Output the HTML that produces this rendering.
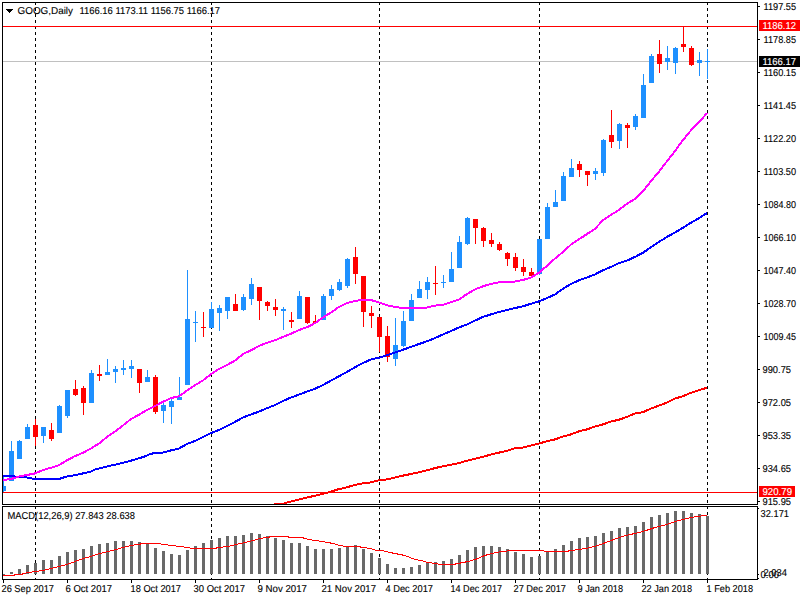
<!DOCTYPE html><html><head><meta charset="utf-8"><title>GOOG,Daily</title><style>
html,body{margin:0;padding:0;background:#fff;width:800px;height:600px;overflow:hidden}
svg{display:block}
text{font-family:"Liberation Sans", sans-serif;font-size:10px;fill:#000;text-rendering:geometricPrecision}
</style></head><body>
<svg width="800" height="600" viewBox="0 0 800 600">
<rect x="0" y="0" width="800" height="600" fill="#fff"/>
<defs><clipPath id="cm"><rect x="3" y="3" width="754" height="501"/></clipPath><clipPath id="cs"><rect x="3" y="507" width="754" height="72"/></clipPath></defs>
<g shape-rendering="crispEdges">
<line x1="35.5" y1="2" x2="35.5" y2="580" stroke="#000" stroke-width="1" stroke-dasharray="3 3"/>
<line x1="211.5" y1="2" x2="211.5" y2="580" stroke="#000" stroke-width="1" stroke-dasharray="3 3"/>
<line x1="379.5" y1="2" x2="379.5" y2="580" stroke="#000" stroke-width="1" stroke-dasharray="3 3"/>
<line x1="539.5" y1="2" x2="539.5" y2="580" stroke="#000" stroke-width="1" stroke-dasharray="3 3"/>
<line x1="707.5" y1="2" x2="707.5" y2="580" stroke="#000" stroke-width="1" stroke-dasharray="3 3"/>
</g>
<g shape-rendering="crispEdges">
<rect x="3" y="61" width="754" height="1" fill="#C0C0C0"/>
<rect x="3" y="26" width="754" height="1" fill="#FF0000"/>
<rect x="3" y="492" width="754" height="1" fill="#FF0000"/>
</g>
<g clip-path="url(#cm)" shape-rendering="crispEdges">
<rect x="3" y="477" width="1" height="15" fill="#1E90FF"/>
<rect x="1" y="486" width="5" height="5" fill="#1E90FF"/>
<rect x="11" y="441" width="1" height="40" fill="#1E90FF"/>
<rect x="9" y="451" width="5" height="30" fill="#1E90FF"/>
<rect x="19" y="440" width="1" height="19" fill="#1E90FF"/>
<rect x="17" y="441" width="5" height="18" fill="#1E90FF"/>
<rect x="27" y="424" width="1" height="15" fill="#1E90FF"/>
<rect x="25" y="427" width="5" height="12" fill="#1E90FF"/>
<rect x="35" y="419" width="1" height="27" fill="#FF0000"/>
<rect x="33" y="425" width="5" height="12" fill="#FF0000"/>
<rect x="43" y="427" width="1" height="16" fill="#1E90FF"/>
<rect x="41" y="427" width="5" height="9" fill="#1E90FF"/>
<rect x="51" y="423" width="1" height="18" fill="#FF0000"/>
<rect x="49" y="430" width="5" height="9" fill="#FF0000"/>
<rect x="59" y="405" width="1" height="28" fill="#1E90FF"/>
<rect x="57" y="406" width="5" height="27" fill="#1E90FF"/>
<rect x="67" y="390" width="1" height="28" fill="#1E90FF"/>
<rect x="65" y="390" width="5" height="26" fill="#1E90FF"/>
<rect x="75" y="380" width="1" height="16" fill="#FF0000"/>
<rect x="73" y="389" width="5" height="6" fill="#FF0000"/>
<rect x="83" y="386" width="1" height="29" fill="#FF0000"/>
<rect x="81" y="388" width="5" height="15" fill="#FF0000"/>
<rect x="91" y="370" width="1" height="33" fill="#1E90FF"/>
<rect x="89" y="373" width="5" height="30" fill="#1E90FF"/>
<rect x="99" y="365" width="1" height="16" fill="#FF0000"/>
<rect x="97" y="374" width="5" height="2" fill="#FF0000"/>
<rect x="107" y="359" width="1" height="16" fill="#1E90FF"/>
<rect x="105" y="372" width="5" height="3" fill="#1E90FF"/>
<rect x="115" y="366" width="1" height="17" fill="#1E90FF"/>
<rect x="113" y="369" width="5" height="3" fill="#1E90FF"/>
<rect x="123" y="360" width="1" height="15" fill="#1E90FF"/>
<rect x="121" y="368" width="5" height="2" fill="#1E90FF"/>
<rect x="131" y="360" width="1" height="18" fill="#1E90FF"/>
<rect x="129" y="366" width="5" height="3" fill="#1E90FF"/>
<rect x="139" y="369" width="1" height="24" fill="#FF0000"/>
<rect x="137" y="369" width="5" height="14" fill="#FF0000"/>
<rect x="147" y="370" width="1" height="12" fill="#1E90FF"/>
<rect x="145" y="377" width="5" height="5" fill="#1E90FF"/>
<rect x="155" y="375" width="1" height="39" fill="#FF0000"/>
<rect x="153" y="377" width="5" height="35" fill="#FF0000"/>
<rect x="163" y="402" width="1" height="21" fill="#1E90FF"/>
<rect x="161" y="405" width="5" height="6" fill="#1E90FF"/>
<rect x="171" y="399" width="1" height="25" fill="#1E90FF"/>
<rect x="169" y="401" width="5" height="6" fill="#1E90FF"/>
<rect x="179" y="377" width="1" height="23" fill="#1E90FF"/>
<rect x="177" y="397" width="5" height="3" fill="#1E90FF"/>
<rect x="187" y="270" width="1" height="115" fill="#1E90FF"/>
<rect x="185" y="319" width="5" height="66" fill="#1E90FF"/>
<rect x="195" y="311" width="1" height="31" fill="#1E90FF"/>
<rect x="193" y="322" width="5" height="1" fill="#1E90FF"/>
<rect x="203" y="312" width="1" height="25" fill="#FF0000"/>
<rect x="201" y="327" width="5" height="1" fill="#FF0000"/>
<rect x="211" y="302" width="1" height="26" fill="#1E90FF"/>
<rect x="209" y="309" width="5" height="19" fill="#1E90FF"/>
<rect x="219" y="305" width="1" height="26" fill="#1E90FF"/>
<rect x="217" y="308" width="5" height="5" fill="#1E90FF"/>
<rect x="227" y="297" width="1" height="22" fill="#1E90FF"/>
<rect x="225" y="297" width="5" height="14" fill="#1E90FF"/>
<rect x="235" y="294" width="1" height="17" fill="#FF0000"/>
<rect x="233" y="304" width="5" height="7" fill="#FF0000"/>
<rect x="243" y="294" width="1" height="17" fill="#1E90FF"/>
<rect x="241" y="297" width="5" height="13" fill="#1E90FF"/>
<rect x="251" y="278" width="1" height="27" fill="#1E90FF"/>
<rect x="249" y="284" width="5" height="15" fill="#1E90FF"/>
<rect x="259" y="287" width="1" height="33" fill="#FF0000"/>
<rect x="257" y="287" width="5" height="14" fill="#FF0000"/>
<rect x="267" y="301" width="1" height="10" fill="#FF0000"/>
<rect x="265" y="302" width="5" height="4" fill="#FF0000"/>
<rect x="275" y="299" width="1" height="17" fill="#FF0000"/>
<rect x="273" y="307" width="5" height="3" fill="#FF0000"/>
<rect x="283" y="307" width="1" height="23" fill="#1E90FF"/>
<rect x="281" y="309" width="5" height="2" fill="#1E90FF"/>
<rect x="291" y="312" width="1" height="16" fill="#FF0000"/>
<rect x="289" y="320" width="5" height="2" fill="#FF0000"/>
<rect x="299" y="291" width="1" height="28" fill="#1E90FF"/>
<rect x="297" y="296" width="5" height="23" fill="#1E90FF"/>
<rect x="307" y="297" width="1" height="27" fill="#FF0000"/>
<rect x="305" y="297" width="5" height="26" fill="#FF0000"/>
<rect x="315" y="315" width="1" height="8" fill="#FF0000"/>
<rect x="313" y="321" width="5" height="2" fill="#FF0000"/>
<rect x="323" y="294" width="1" height="26" fill="#1E90FF"/>
<rect x="321" y="296" width="5" height="24" fill="#1E90FF"/>
<rect x="331" y="285" width="1" height="15" fill="#1E90FF"/>
<rect x="329" y="289" width="5" height="7" fill="#1E90FF"/>
<rect x="339" y="279" width="1" height="12" fill="#1E90FF"/>
<rect x="337" y="282" width="5" height="8" fill="#1E90FF"/>
<rect x="347" y="258" width="1" height="30" fill="#1E90FF"/>
<rect x="345" y="259" width="5" height="27" fill="#1E90FF"/>
<rect x="355" y="247" width="1" height="37" fill="#FF0000"/>
<rect x="353" y="257" width="5" height="17" fill="#FF0000"/>
<rect x="363" y="276" width="1" height="51" fill="#FF0000"/>
<rect x="361" y="276" width="5" height="36" fill="#FF0000"/>
<rect x="371" y="306" width="1" height="22" fill="#FF0000"/>
<rect x="369" y="313" width="5" height="3" fill="#FF0000"/>
<rect x="379" y="317" width="1" height="35" fill="#FF0000"/>
<rect x="377" y="317" width="5" height="20" fill="#FF0000"/>
<rect x="387" y="326" width="1" height="36" fill="#FF0000"/>
<rect x="385" y="336" width="5" height="21" fill="#FF0000"/>
<rect x="395" y="318" width="1" height="48" fill="#1E90FF"/>
<rect x="393" y="345" width="5" height="14" fill="#1E90FF"/>
<rect x="403" y="311" width="1" height="36" fill="#1E90FF"/>
<rect x="401" y="321" width="5" height="25" fill="#1E90FF"/>
<rect x="411" y="294" width="1" height="27" fill="#1E90FF"/>
<rect x="409" y="300" width="5" height="21" fill="#1E90FF"/>
<rect x="419" y="281" width="1" height="17" fill="#1E90FF"/>
<rect x="417" y="289" width="5" height="9" fill="#1E90FF"/>
<rect x="427" y="277" width="1" height="22" fill="#1E90FF"/>
<rect x="425" y="282" width="5" height="8" fill="#1E90FF"/>
<rect x="435" y="266" width="1" height="29" fill="#FF0000"/>
<rect x="433" y="283" width="5" height="1" fill="#FF0000"/>
<rect x="443" y="275" width="1" height="13" fill="#1E90FF"/>
<rect x="441" y="282" width="5" height="1" fill="#1E90FF"/>
<rect x="451" y="252" width="1" height="30" fill="#1E90FF"/>
<rect x="449" y="269" width="5" height="13" fill="#1E90FF"/>
<rect x="459" y="236" width="1" height="32" fill="#1E90FF"/>
<rect x="457" y="242" width="5" height="26" fill="#1E90FF"/>
<rect x="467" y="217" width="1" height="28" fill="#1E90FF"/>
<rect x="465" y="218" width="5" height="26" fill="#1E90FF"/>
<rect x="475" y="219" width="1" height="25" fill="#FF0000"/>
<rect x="473" y="219" width="5" height="9" fill="#FF0000"/>
<rect x="483" y="227" width="1" height="20" fill="#FF0000"/>
<rect x="481" y="228" width="5" height="13" fill="#FF0000"/>
<rect x="491" y="233" width="1" height="14" fill="#FF0000"/>
<rect x="489" y="240" width="5" height="4" fill="#FF0000"/>
<rect x="499" y="242" width="1" height="9" fill="#FF0000"/>
<rect x="497" y="244" width="5" height="6" fill="#FF0000"/>
<rect x="507" y="252" width="1" height="14" fill="#FF0000"/>
<rect x="505" y="253" width="5" height="6" fill="#FF0000"/>
<rect x="515" y="253" width="1" height="18" fill="#FF0000"/>
<rect x="513" y="257" width="5" height="11" fill="#FF0000"/>
<rect x="523" y="259" width="1" height="17" fill="#FF0000"/>
<rect x="521" y="267" width="5" height="5" fill="#FF0000"/>
<rect x="531" y="268" width="1" height="8" fill="#FF0000"/>
<rect x="529" y="272" width="5" height="4" fill="#FF0000"/>
<rect x="539" y="239" width="1" height="36" fill="#1E90FF"/>
<rect x="537" y="239" width="5" height="35" fill="#1E90FF"/>
<rect x="547" y="203" width="1" height="36" fill="#1E90FF"/>
<rect x="545" y="207" width="5" height="32" fill="#1E90FF"/>
<rect x="555" y="190" width="1" height="17" fill="#1E90FF"/>
<rect x="553" y="202" width="5" height="5" fill="#1E90FF"/>
<rect x="563" y="172" width="1" height="29" fill="#1E90FF"/>
<rect x="561" y="176" width="5" height="25" fill="#1E90FF"/>
<rect x="571" y="159" width="1" height="18" fill="#1E90FF"/>
<rect x="569" y="168" width="5" height="9" fill="#1E90FF"/>
<rect x="579" y="161" width="1" height="16" fill="#FF0000"/>
<rect x="577" y="164" width="5" height="6" fill="#FF0000"/>
<rect x="587" y="171" width="1" height="15" fill="#FF0000"/>
<rect x="585" y="171" width="5" height="4" fill="#FF0000"/>
<rect x="595" y="168" width="1" height="12" fill="#1E90FF"/>
<rect x="593" y="171" width="5" height="3" fill="#1E90FF"/>
<rect x="603" y="139" width="1" height="37" fill="#1E90FF"/>
<rect x="601" y="140" width="5" height="33" fill="#1E90FF"/>
<rect x="611" y="110" width="1" height="38" fill="#FF0000"/>
<rect x="609" y="135" width="5" height="7" fill="#FF0000"/>
<rect x="619" y="123" width="1" height="26" fill="#1E90FF"/>
<rect x="617" y="124" width="5" height="17" fill="#1E90FF"/>
<rect x="627" y="123" width="1" height="25" fill="#FF0000"/>
<rect x="625" y="125" width="5" height="3" fill="#FF0000"/>
<rect x="635" y="114" width="1" height="16" fill="#1E90FF"/>
<rect x="633" y="116" width="5" height="11" fill="#1E90FF"/>
<rect x="643" y="74" width="1" height="44" fill="#1E90FF"/>
<rect x="641" y="85" width="5" height="33" fill="#1E90FF"/>
<rect x="651" y="54" width="1" height="29" fill="#1E90FF"/>
<rect x="649" y="56" width="5" height="27" fill="#1E90FF"/>
<rect x="659" y="40" width="1" height="33" fill="#FF0000"/>
<rect x="657" y="54" width="5" height="10" fill="#FF0000"/>
<rect x="667" y="46" width="1" height="24" fill="#1E90FF"/>
<rect x="665" y="58" width="5" height="4" fill="#1E90FF"/>
<rect x="675" y="47" width="1" height="27" fill="#1E90FF"/>
<rect x="673" y="48" width="5" height="15" fill="#1E90FF"/>
<rect x="683" y="26" width="1" height="26" fill="#FF0000"/>
<rect x="681" y="44" width="5" height="3" fill="#FF0000"/>
<rect x="691" y="46" width="1" height="20" fill="#FF0000"/>
<rect x="689" y="48" width="5" height="17" fill="#FF0000"/>
<rect x="699" y="52" width="1" height="24" fill="#1E90FF"/>
<rect x="697" y="60" width="5" height="3" fill="#1E90FF"/>
<rect x="707" y="49" width="1" height="30" fill="#1E90FF"/>
<rect x="705" y="61" width="5" height="1" fill="#1E90FF"/>
</g>
<g clip-path="url(#cm)" fill="none" stroke-width="2" stroke-linejoin="miter" shape-rendering="crispEdges">
<polyline points="250,505.5 274.5,505 275,504 283,504 285,503 289,502 293,501 297,500 301,499 305,498 309,497 314,496 322,494 330,492 338,489.4 346,487.5 354,485.25 362,483.5 369,482.75 379,480.25 387,479.4 395,477.5 403,475.6 411,474 419,472.25 427,470.25 435,468.1 443,466.25 451,464.75 459,463.0 467,460.75 475,458.85 483,456.75 491,454.5 499,452.65 507,450.75 515,448.1 523,447.5 531,445.6 539,443.5 547,441.25 555,439.4 563,436.5 571,434.4 579,431.25 587,429.4 595,426.5 603,424.4 611,421.5 619,419.75 627,416.9 635,413.5 643,412.1 651,408.6 659,405.6 667,402.6 675,398.6 683,396.1 691,392.8 699,390.2 707,387.8" stroke="#FF0000"/>
<polyline points="3,476 11,476 19,477 27,477.5 35,479 59,479 67,476.4 75,475.25 83,473.4 90,471.9 95,469.4 103,467.5 111,465.6 119,463.75 127,461.9 135,459.4 143,457.1 151,453.75 159,452.5 163,452.5 171,450.4 179,448.5 187,444 195,441 203,436.9 211,433.1 219,430 227,426 235,421.9 243,417.5 251,414.4 259,411.6 267,408.2 275,405 283,401 291,397.5 299,394.6 307,391.5 315,388.75 323,385 331,380.6 339,376.25 347,371.9 360,364.4 371,359.4 379,357.75 387,355.25 395,352.5 403,349.75 411,346.9 419,344 427,341.25 435,338.1 443,334.4 451,331 459,327.5 467,324.5 475,320.6 483,316.9 491,314.4 499,311.9 507,310 515,308.1 523,306.25 531,303.75 539,301.4 547,298.1 555,294.4 563,288.75 571,284 579,280.25 587,277.5 595,274.4 603,270.3 611,266.9 619,263.1 627,260.6 635,256.9 643,252.75 651,247.25 659,241.9 667,236.9 675,232.5 683,227.75 691,222.75 699,218.1 707,213.1" stroke="#0000FF"/>
<polyline points="3,480 11,479 19,476.5 27,475 35,473.4 43,470 51,467.75 59,465.1 67,460.25 75,456.1 83,452.75 91,448.5 99,443.5 107,437 115,431.4 123,425.4 131,419 139,414.8 147,409.9 155,406 163,401.8 171,398.1 179,396.25 187,390.6 195,385.2 203,380.4 211,374.2 219,368.9 227,365 235,360.6 243,354 251,350.3 259,346 267,342.75 275,340.25 283,336.9 291,333.75 299,330 307,327.25 315,323.1 323,317.5 331,312.5 339,306.9 347,303.1 355,301 363,299.75 371,300 379,302.5 387,305.25 395,306.9 403,308.1 411,308.1 419,308.1 427,307.5 435,305.6 443,304.9 451,302.2 459,299.5 467,294 475,289.4 483,286.25 491,284 499,282.25 507,281.5 515,281.5 523,280 531,277.5 539,272.7 547,265.8 555,258.5 563,252 571,244.6 579,239.3 587,234 595,228.8 603,220.2 611,214.9 619,209.9 627,203.75 635,198.8 643,191.25 651,181 659,171.7 667,161.2 675,151 683,140 691,130.3 699,122.3 707,113" stroke="#FF00FF"/>
</g>
<g clip-path="url(#cs)" shape-rendering="crispEdges">
<rect x="2" y="574" width="3" height="1" fill="#696969"/>
<rect x="10" y="572" width="3" height="2" fill="#696969"/>
<rect x="18" y="569" width="3" height="5" fill="#696969"/>
<rect x="26" y="565" width="3" height="9" fill="#696969"/>
<rect x="34" y="563" width="3" height="11" fill="#696969"/>
<rect x="42" y="560" width="3" height="14" fill="#696969"/>
<rect x="50" y="560" width="3" height="14" fill="#696969"/>
<rect x="58" y="556" width="3" height="18" fill="#696969"/>
<rect x="66" y="552" width="3" height="22" fill="#696969"/>
<rect x="74" y="550" width="3" height="24" fill="#696969"/>
<rect x="82" y="549" width="3" height="25" fill="#696969"/>
<rect x="90" y="546" width="3" height="28" fill="#696969"/>
<rect x="98" y="544" width="3" height="30" fill="#696969"/>
<rect x="106" y="543" width="3" height="31" fill="#696969"/>
<rect x="114" y="541" width="3" height="33" fill="#696969"/>
<rect x="122" y="541" width="3" height="33" fill="#696969"/>
<rect x="130" y="541" width="3" height="33" fill="#696969"/>
<rect x="138" y="542" width="3" height="32" fill="#696969"/>
<rect x="146" y="543" width="3" height="31" fill="#696969"/>
<rect x="154" y="548" width="3" height="26" fill="#696969"/>
<rect x="162" y="551" width="3" height="23" fill="#696969"/>
<rect x="170" y="554" width="3" height="20" fill="#696969"/>
<rect x="178" y="555" width="3" height="19" fill="#696969"/>
<rect x="186" y="550" width="3" height="24" fill="#696969"/>
<rect x="194" y="546" width="3" height="28" fill="#696969"/>
<rect x="202" y="543" width="3" height="31" fill="#696969"/>
<rect x="210" y="540" width="3" height="34" fill="#696969"/>
<rect x="218" y="538" width="3" height="36" fill="#696969"/>
<rect x="226" y="536" width="3" height="38" fill="#696969"/>
<rect x="234" y="536" width="3" height="38" fill="#696969"/>
<rect x="242" y="535" width="3" height="39" fill="#696969"/>
<rect x="250" y="533" width="3" height="41" fill="#696969"/>
<rect x="258" y="534" width="3" height="40" fill="#696969"/>
<rect x="266" y="536" width="3" height="38" fill="#696969"/>
<rect x="274" y="538" width="3" height="36" fill="#696969"/>
<rect x="282" y="540" width="3" height="34" fill="#696969"/>
<rect x="290" y="543" width="3" height="31" fill="#696969"/>
<rect x="298" y="543" width="3" height="31" fill="#696969"/>
<rect x="306" y="546" width="3" height="28" fill="#696969"/>
<rect x="314" y="549" width="3" height="25" fill="#696969"/>
<rect x="322" y="549" width="3" height="25" fill="#696969"/>
<rect x="330" y="549" width="3" height="25" fill="#696969"/>
<rect x="338" y="548" width="3" height="26" fill="#696969"/>
<rect x="346" y="547" width="3" height="27" fill="#696969"/>
<rect x="354" y="545" width="3" height="29" fill="#696969"/>
<rect x="362" y="549" width="3" height="25" fill="#696969"/>
<rect x="370" y="553" width="3" height="21" fill="#696969"/>
<rect x="378" y="558" width="3" height="16" fill="#696969"/>
<rect x="386" y="564" width="3" height="10" fill="#696969"/>
<rect x="394" y="568" width="3" height="6" fill="#696969"/>
<rect x="402" y="568" width="3" height="6" fill="#696969"/>
<rect x="410" y="567" width="3" height="7" fill="#696969"/>
<rect x="418" y="565" width="3" height="9" fill="#696969"/>
<rect x="426" y="562" width="3" height="12" fill="#696969"/>
<rect x="434" y="562" width="3" height="12" fill="#696969"/>
<rect x="442" y="561" width="3" height="13" fill="#696969"/>
<rect x="450" y="559" width="3" height="15" fill="#696969"/>
<rect x="458" y="555" width="3" height="19" fill="#696969"/>
<rect x="466" y="550" width="3" height="24" fill="#696969"/>
<rect x="474" y="547" width="3" height="27" fill="#696969"/>
<rect x="482" y="546" width="3" height="28" fill="#696969"/>
<rect x="490" y="546" width="3" height="28" fill="#696969"/>
<rect x="498" y="547" width="3" height="27" fill="#696969"/>
<rect x="506" y="549" width="3" height="25" fill="#696969"/>
<rect x="514" y="552" width="3" height="22" fill="#696969"/>
<rect x="522" y="554" width="3" height="20" fill="#696969"/>
<rect x="530" y="557" width="3" height="17" fill="#696969"/>
<rect x="538" y="556" width="3" height="18" fill="#696969"/>
<rect x="546" y="551" width="3" height="23" fill="#696969"/>
<rect x="554" y="549" width="3" height="25" fill="#696969"/>
<rect x="562" y="545" width="3" height="29" fill="#696969"/>
<rect x="570" y="541" width="3" height="33" fill="#696969"/>
<rect x="578" y="538" width="3" height="36" fill="#696969"/>
<rect x="586" y="537" width="3" height="37" fill="#696969"/>
<rect x="594" y="536" width="3" height="38" fill="#696969"/>
<rect x="602" y="533" width="3" height="41" fill="#696969"/>
<rect x="610" y="531" width="3" height="43" fill="#696969"/>
<rect x="618" y="528" width="3" height="46" fill="#696969"/>
<rect x="626" y="527" width="3" height="47" fill="#696969"/>
<rect x="634" y="526" width="3" height="48" fill="#696969"/>
<rect x="642" y="522" width="3" height="52" fill="#696969"/>
<rect x="650" y="517" width="3" height="57" fill="#696969"/>
<rect x="658" y="515" width="3" height="59" fill="#696969"/>
<rect x="666" y="513" width="3" height="61" fill="#696969"/>
<rect x="674" y="511" width="3" height="63" fill="#696969"/>
<rect x="682" y="511" width="3" height="63" fill="#696969"/>
<rect x="690" y="513" width="3" height="61" fill="#696969"/>
<rect x="698" y="514" width="3" height="60" fill="#696969"/>
<rect x="706" y="516" width="3" height="58" fill="#696969"/>
<polyline points="3,575.5 14.5,575.5 15,574.5 22.5,574.5 23,573.5 29,572.5 35,571.5 43,570.5 51,568.5 59,566.5 67,564.5 75,561.5 83,558.5 91,556.5 96,554.5 102,553 108,551.5 116,549.5 123,547.5 131,545.5 138,544.5 143,543.5 158,543.5 164,544.5 172,545.5 180,546.5 188,547.5 192,548.5 214,548.5 219,547.5 228,546.5 236,544.5 245,542.5 253,540.5 260,538.5 267,537.5 272,536.5 287,536.5 290,537.5 302,537.5 305,538.5 309,539.5 315,540.5 322,541.5 328,542.5 333,543.5 340,545.5 346,546.5 358,546.5 363,547.5 370,548.5 377,550.5 382,550.5 386,551.5 390,552.5 395,553.5 400,554.5 405,555.5 410,557.5 415,559.5 421,560.5 428,562.5 435,563.5 441,564.5 453,564.5 458,563.5 463,562.5 468,561.5 475,559.5 478,558.5 482,556.5 488,554.5 496,552.5 503,551.5 511,550.5 543,550.5 545,551.5 567,551.5 570,550.5 575,550 580,549.4 587.5,548.1 595,546.25 602.5,543.75 610,541 617.5,538.1 625,535.6 632.5,534 640,532.25 647.5,530 655,527.5 662.5,525.6 670,523.5 675,521.5 683,519.4 691,517.5 699,516.25 707,515.25" fill="none" stroke="#FF0000" stroke-width="1"/>
</g>
<g shape-rendering="crispEdges" fill="#000">
<rect x="2" y="2" width="756" height="1" fill="#000"/>
<rect x="2" y="504" width="756" height="1" fill="#000"/>
<rect x="2" y="2" width="1" height="503" fill="#000"/>
<rect x="757" y="2" width="1" height="503" fill="#000"/>
<rect x="2" y="506" width="756" height="1" fill="#000"/>
<rect x="2" y="579" width="756" height="1" fill="#000"/>
<rect x="2" y="506" width="1" height="74" fill="#000"/>
<rect x="757" y="506" width="1" height="74" fill="#000"/>
<rect x="758" y="6" width="2" height="1" fill="#000"/>
<rect x="758" y="39" width="2" height="1" fill="#000"/>
<rect x="758" y="72" width="2" height="1" fill="#000"/>
<rect x="758" y="105" width="2" height="1" fill="#000"/>
<rect x="758" y="138" width="2" height="1" fill="#000"/>
<rect x="758" y="171" width="2" height="1" fill="#000"/>
<rect x="758" y="204" width="2" height="1" fill="#000"/>
<rect x="758" y="237" width="2" height="1" fill="#000"/>
<rect x="758" y="270" width="2" height="1" fill="#000"/>
<rect x="758" y="303" width="2" height="1" fill="#000"/>
<rect x="758" y="336" width="2" height="1" fill="#000"/>
<rect x="758" y="369" width="2" height="1" fill="#000"/>
<rect x="758" y="402" width="2" height="1" fill="#000"/>
<rect x="758" y="435" width="2" height="1" fill="#000"/>
<rect x="758" y="468" width="2" height="1" fill="#000"/>
<rect x="758" y="501" width="2" height="1" fill="#000"/>
<rect x="758" y="508" width="1" height="1" fill="#000"/>
<rect x="758" y="574" width="1" height="1" fill="#000"/>
<rect x="758" y="578" width="1" height="1" fill="#000"/>
<rect x="3" y="580" width="1" height="3" fill="#000"/>
<rect x="67" y="580" width="1" height="3" fill="#000"/>
<rect x="131" y="580" width="1" height="3" fill="#000"/>
<rect x="195" y="580" width="1" height="3" fill="#000"/>
<rect x="259" y="580" width="1" height="3" fill="#000"/>
<rect x="323" y="580" width="1" height="3" fill="#000"/>
<rect x="387" y="580" width="1" height="3" fill="#000"/>
<rect x="451" y="580" width="1" height="3" fill="#000"/>
<rect x="515" y="580" width="1" height="3" fill="#000"/>
<rect x="579" y="580" width="1" height="3" fill="#000"/>
<rect x="643" y="580" width="1" height="3" fill="#000"/>
<rect x="707" y="580" width="1" height="3" fill="#000"/>
</g>
<text x="763.5" y="10" textLength="32.5" lengthAdjust="spacingAndGlyphs" style="fill:#000;stroke:#000;stroke-width:0.12">1197.55</text>
<text x="763.5" y="43" textLength="32.5" lengthAdjust="spacingAndGlyphs" style="fill:#000;stroke:#000;stroke-width:0.12">1178.85</text>
<text x="763.5" y="76" textLength="32.5" lengthAdjust="spacingAndGlyphs" style="fill:#000;stroke:#000;stroke-width:0.12">1160.15</text>
<text x="763.5" y="109" textLength="32.5" lengthAdjust="spacingAndGlyphs" style="fill:#000;stroke:#000;stroke-width:0.12">1141.45</text>
<text x="763.5" y="142" textLength="32.5" lengthAdjust="spacingAndGlyphs" style="fill:#000;stroke:#000;stroke-width:0.12">1122.20</text>
<text x="763.5" y="175" textLength="32.5" lengthAdjust="spacingAndGlyphs" style="fill:#000;stroke:#000;stroke-width:0.12">1103.50</text>
<text x="763.5" y="208" textLength="32.5" lengthAdjust="spacingAndGlyphs" style="fill:#000;stroke:#000;stroke-width:0.12">1084.80</text>
<text x="763.5" y="241" textLength="32.5" lengthAdjust="spacingAndGlyphs" style="fill:#000;stroke:#000;stroke-width:0.12">1066.10</text>
<text x="763.5" y="274" textLength="32.5" lengthAdjust="spacingAndGlyphs" style="fill:#000;stroke:#000;stroke-width:0.12">1047.40</text>
<text x="763.5" y="307" textLength="32.5" lengthAdjust="spacingAndGlyphs" style="fill:#000;stroke:#000;stroke-width:0.12">1028.70</text>
<text x="763.5" y="340" textLength="32.5" lengthAdjust="spacingAndGlyphs" style="fill:#000;stroke:#000;stroke-width:0.12">1009.45</text>
<text x="762.5" y="373" textLength="28.5" lengthAdjust="spacingAndGlyphs" style="fill:#000;stroke:#000;stroke-width:0.12">990.75</text>
<text x="762.5" y="406" textLength="28.5" lengthAdjust="spacingAndGlyphs" style="fill:#000;stroke:#000;stroke-width:0.12">972.05</text>
<text x="762.5" y="439" textLength="28.5" lengthAdjust="spacingAndGlyphs" style="fill:#000;stroke:#000;stroke-width:0.12">953.35</text>
<text x="762.5" y="472" textLength="28.5" lengthAdjust="spacingAndGlyphs" style="fill:#000;stroke:#000;stroke-width:0.12">934.65</text>
<text x="762.5" y="505" textLength="28.5" lengthAdjust="spacingAndGlyphs" style="fill:#000;stroke:#000;stroke-width:0.12">915.95</text>
<g shape-rendering="crispEdges">
<rect x="759" y="20" width="41" height="11" fill="#FF0000"/>
<rect x="759" y="56" width="41" height="11" fill="#000"/>
<rect x="759" y="486" width="36" height="11" fill="#FF0000"/>
</g>
<text x="762.5" y="29" textLength="33.5" lengthAdjust="spacingAndGlyphs" style="fill:#fff;stroke:#fff;stroke-width:0.12">1186.12</text>
<text x="762.5" y="65" textLength="33.5" lengthAdjust="spacingAndGlyphs" style="fill:#fff;stroke:#fff;stroke-width:0.12">1166.17</text>
<text x="762.5" y="495" textLength="29.5" lengthAdjust="spacingAndGlyphs" style="fill:#fff;stroke:#fff;stroke-width:0.12">920.79</text>
<text x="760.5" y="517" textLength="28.5" lengthAdjust="spacingAndGlyphs" style="fill:#000;stroke:#000;stroke-width:0.12">32.171</text>
<text x="763.5" y="576" textLength="23.5" lengthAdjust="spacingAndGlyphs" style="fill:#000;stroke:#000;stroke-width:0.12">2.034</text>
<text x="760.5" y="578" textLength="18.5" lengthAdjust="spacingAndGlyphs" style="fill:#000;stroke:#000;stroke-width:0.12">0.00</text>
<text x="1.5" y="592" textLength="52.5" lengthAdjust="spacingAndGlyphs" style="fill:#000;stroke:#000;stroke-width:0.12">26 Sep 2017</text>
<text x="65.5" y="592" textLength="46.5" lengthAdjust="spacingAndGlyphs" style="fill:#000;stroke:#000;stroke-width:0.12">6 Oct 2017</text>
<text x="130.5" y="592" textLength="50.5" lengthAdjust="spacingAndGlyphs" style="fill:#000;stroke:#000;stroke-width:0.12">18 Oct 2017</text>
<text x="193.5" y="592" textLength="51.5" lengthAdjust="spacingAndGlyphs" style="fill:#000;stroke:#000;stroke-width:0.12">30 Oct 2017</text>
<text x="257.5" y="592" textLength="49.5" lengthAdjust="spacingAndGlyphs" style="fill:#000;stroke:#000;stroke-width:0.12">9 Nov 2017</text>
<text x="321.5" y="592" textLength="54.5" lengthAdjust="spacingAndGlyphs" style="fill:#000;stroke:#000;stroke-width:0.12">21 Nov 2017</text>
<text x="385.5" y="592" textLength="47.5" lengthAdjust="spacingAndGlyphs" style="fill:#000;stroke:#000;stroke-width:0.12">4 Dec 2017</text>
<text x="450.5" y="592" textLength="51.5" lengthAdjust="spacingAndGlyphs" style="fill:#000;stroke:#000;stroke-width:0.12">14 Dec 2017</text>
<text x="513.5" y="592" textLength="52.5" lengthAdjust="spacingAndGlyphs" style="fill:#000;stroke:#000;stroke-width:0.12">27 Dec 2017</text>
<text x="577.5" y="592" textLength="45.5" lengthAdjust="spacingAndGlyphs" style="fill:#000;stroke:#000;stroke-width:0.12">9 Jan 2018</text>
<text x="641.5" y="592" textLength="50.5" lengthAdjust="spacingAndGlyphs" style="fill:#000;stroke:#000;stroke-width:0.12">22 Jan 2018</text>
<text x="706.5" y="592" textLength="46.5" lengthAdjust="spacingAndGlyphs" style="fill:#000;stroke:#000;stroke-width:0.12">1 Feb 2018</text>
<g shape-rendering="crispEdges"><rect x="6" y="9" width="7" height="1" fill="#000"/><rect x="7" y="10" width="5" height="1" fill="#000"/><rect x="8" y="11" width="3" height="1" fill="#000"/><rect x="9" y="12" width="1" height="1" fill="#000"/></g>
<text x="17.5" y="14" textLength="55.5" lengthAdjust="spacingAndGlyphs" style="fill:#000;stroke:#000;stroke-width:0.12">GOOG,Daily</text>
<text x="79.5" y="14" textLength="140.5" lengthAdjust="spacingAndGlyphs" style="fill:#000;stroke:#000;stroke-width:0.12">1166.16 1173.11 1156.75 1166.17</text>
<text x="7.5" y="519" textLength="127.5" lengthAdjust="spacingAndGlyphs" style="fill:#000;stroke:#000;stroke-width:0.12">MACD(12,26,9) 27.843 28.638</text>
</svg></body></html>
